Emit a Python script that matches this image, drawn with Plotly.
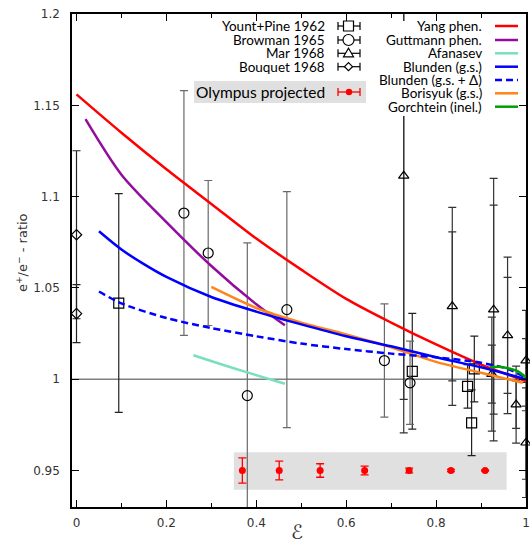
import plotly.graph_objects as go

# ---------------- data ----------------
# Yount+Pine 1962 (squares)
yount_x = [0.094, 0.747, 0.870, 0.879, 0.885]
yount_y = [1.0417, 1.0043, 0.9961, 0.9761, 1.0056]
yount_e = [0.0599, 0.0317, 0.0119, 0.0180, 0.0180]

# Browman 1965 (circles)
brow_x = [0.239, 0.293, 0.380, 0.468, 0.685, 0.742]
brow_y = [1.0910, 1.0691, 0.9910, 1.0381, 1.0102, 0.9980]
brow_e = [0.0670, 0.0397, 0.0837, 0.0646, 0.0310, 0.0228]

# Mar 1968 (triangles): total and statistical errors
mar_x = [0.728, 0.836, 0.924, 0.928, 0.959, 0.978]
mar_y = [1.1114, 1.0399, 1.0028, 1.0381, 1.0240, 0.9861]
mar_e_tot = [0.1408, 0.0542, 0.0312, 0.0719, 0.0429, 0.0211]
mar_e_stat = [0.1225, 0.0408, 0.0159, 0.0572, 0.0318, 0.0130]
mar_edge_x = [1.0, 1.0]
mar_edge_y = [1.0102, 0.9652]
mar_edge_e_tot = [0.0275, 0.0300]
mar_edge_e_stat = [0.0120, 0.0200]

# Bouquet 1968 (diamonds)
bouq_x = [0.0, 0.0]
bouq_y = [1.0791, 1.0359]
bouq_e = [0.0460, 0.0159]

# Olympus projected
oly_x = [0.369, 0.451, 0.542, 0.641, 0.740, 0.833, 0.909]
oly_y = [0.95, 0.95, 0.95, 0.95, 0.95, 0.95, 0.95]
oly_e = [0.0069, 0.0051, 0.0037, 0.0024, 0.0013, 0.0006, 0.0003]
oly_band_x = [0.35, 0.957]
oly_band_y = [0.9395, 0.960]

# Theory curves
yang_x = [0.0, 0.1, 0.2, 0.3, 0.4, 0.5, 0.6, 0.7, 0.8, 0.9, 1.0]
yang_y = [1.156, 1.135, 1.115, 1.096, 1.077, 1.060, 1.044, 1.031, 1.019, 1.008, 0.999]

gutt_x = [0.02, 0.1, 0.2, 0.3, 0.4, 0.4636]
gutt_y = [1.1424, 1.112, 1.086, 1.062, 1.041, 1.0295]

afan_x = [0.26, 0.32, 0.38, 0.4636]
afan_y = [1.0131, 1.0083, 1.0037, 0.9975]

blun_x = [0.05, 0.1, 0.15, 0.2, 0.3, 0.4, 0.5, 0.6, 0.7, 0.8, 0.9, 1.0]
blun_y = [1.081, 1.071, 1.063, 1.056, 1.045, 1.037, 1.030, 1.0235, 1.018, 1.012, 1.0065, 1.0]

blund_x = [0.05, 0.1, 0.2, 0.3, 0.4, 0.5, 0.6, 0.7, 0.8, 0.9, 0.96, 1.0]
blund_y = [1.048, 1.0415, 1.0335, 1.028, 1.0235, 1.0195, 1.0165, 1.014, 1.012, 1.009, 1.0056, 1.0007]

bori_x = [0.3, 0.4, 0.5, 0.6, 0.7, 0.8, 0.9, 0.993]
bori_y = [1.0505, 1.039, 1.031, 1.0245, 1.0175, 1.0095, 1.0035, 0.998]

gorc_x = [0.92, 0.94, 0.96, 0.98, 1.0]
gorc_y = [1.0065, 1.0068, 1.006, 1.0045, 1.001]

xtick_vals = [0, 0.2, 0.4, 0.6, 0.8, 1.0]
xtick_text = ["0", "0.2", "0.4", "0.6", "0.8", "1"]
ytick_vals = [0.95, 1.0, 1.05, 1.1, 1.15, 1.2]
ytick_text = ["0.95", "1", "1.05", "1.1", "1.15", "1.2"]

left_labels = ["Yount+Pine 1962", "Browman 1965", "Mar 1968", "Bouquet 1968"]
right_labels = ["Yang phen.", "Guttmann phen.", "Afanasev", "Blunden (g.s.)",
                "Blunden (g.s. + Δ)", "Borisyuk (g.s.)", "Gorchtein (inel.)"]

# ---------------- style ----------------
C_RED = "#ff0000"
C_PUR = "#920c9e"
C_TEAL = "#78e0c0"
C_BLUE = "#0000ff"
C_ORA = "#ff8419"
C_GRN = "#00a000"
LW = 2.5
DASH = "7px,4px"

W_FIG, H_FIG = 530, 543
# plot area in window pixels
P_L, P_R, P_T, P_B = 72, 526, 14, 507
ML, MR, MT, MB = P_L, W_FIG - P_R, P_T, H_FIG - P_B
PW = P_R - P_L
PH = P_B - P_T


def px(p):
    return (p - P_L) / PW


def py(p):
    return (P_B - p) / PH


fig = go.Figure()


def err_trace(x, y, e, symbol, size, color, ecolor, clip=True, showmarker=True):
    fig.add_trace(go.Scatter(
        x=x, y=y, mode="markers",
        marker=dict(symbol=symbol, size=size, color=color,
                    line=dict(color=color, width=1.2)) if showmarker else dict(size=1, color="rgba(0,0,0,0)"),
        error_y=dict(type="data", array=e, visible=True, color=ecolor, thickness=1.2, width=4),
        cliponaxis=clip, showlegend=False, hoverinfo="skip"))


# data points
err_trace(bouq_x, bouq_y, bouq_e, "diamond-open", 8, "black", "#222222", clip=False)
err_trace(yount_x, yount_y, yount_e, "square-open", 10, "black", "#222222")
err_trace(brow_x, brow_y, brow_e, "circle-open", 10, "black", "#6a6a6a")
err_trace(mar_x, mar_y, mar_e_stat, "triangle-up-open", 9, "black", "#333333", showmarker=False)
err_trace(mar_x, mar_y, mar_e_tot, "triangle-up-open", 9, "black", "#333333")
err_trace(mar_edge_x, mar_edge_y, mar_edge_e_stat, "triangle-up-open", 9, "black", "#333333", clip=False, showmarker=False)
err_trace(mar_edge_x, mar_edge_y, mar_edge_e_tot, "triangle-up-open", 9, "black", "#333333", clip=False)

# theory curves
for xs, ys, col, dash in [
    (yang_x, yang_y, C_RED, "solid"),
    (gutt_x, gutt_y, C_PUR, "solid"),
    (afan_x, afan_y, C_TEAL, "solid"),
    (bori_x, bori_y, C_ORA, "solid"),
    (blun_x, blun_y, C_BLUE, "solid"),
    (blund_x, blund_y, C_BLUE, DASH),
    (gorc_x, gorc_y, C_GRN, "solid"),
]:
    fig.add_trace(go.Scatter(x=xs, y=ys, mode="lines",
                             line=dict(color=col, width=LW, dash=dash, shape="spline", smoothing=0.8),
                             showlegend=False, hoverinfo="skip"))

# Olympus projected
fig.add_trace(go.Scatter(
    x=oly_x, y=oly_y, mode="markers",
    marker=dict(symbol="circle", size=7, color=C_RED),
    error_y=dict(type="data", array=oly_e, visible=True, color=C_RED, thickness=1.3, width=4),
    showlegend=False, hoverinfo="skip"))

shapes = []
# olympus band
shapes.append(dict(type="rect", xref="x", yref="y", x0=oly_band_x[0], x1=oly_band_x[1],
                   y0=oly_band_y[0], y1=oly_band_y[1], fillcolor="#e0e0e0",
                   line=dict(width=0), layer="below"))
# y = 1 line
shapes.append(dict(type="line", xref="paper", yref="y", x0=0, x1=1, y0=1, y1=1,
                   line=dict(color="#808080", width=1.5), layer="below"))
# opaque key box (right legend)
shapes.append(dict(type="rect", xref="paper", yref="paper", x0=px(365), x1=px(518),
                   y0=py(116), y1=py(21), fillcolor="white", line=dict(width=0), layer="above"))
# Olympus legend box
shapes.append(dict(type="rect", xref="paper", yref="paper", x0=px(194), x1=px(366),
                   y0=py(103), y1=py(81), fillcolor="#e0e0e0", line=dict(width=0), layer="above"))

annotations = []
LEG_FONT = dict(family="Lato", size=13.5, color="black")

# left legend (data sets)
left_rows = [26, 40, 53.3, 66.7]
for lab, yy in zip(left_labels, left_rows):
    annotations.append(dict(text=lab, xref="paper", yref="paper", x=px(327), y=py(yy),
                            xanchor="right", yanchor="middle", showarrow=False, font=LEG_FONT))
    shapes.append(dict(type="line", xref="paper", yref="paper", x0=px(338), x1=px(360),
                       y0=py(yy), y1=py(yy), line=dict(color="black", width=1.2), layer="above"))
    for cx in (338, 360):
        shapes.append(dict(type="line", xref="paper", yref="paper", x0=px(cx), x1=px(cx),
                           y0=py(yy - 4), y1=py(yy + 4), line=dict(color="black", width=1.2), layer="above"))

mk_x = px(348.5)
# square
shapes.append(dict(type="rect", xref="paper", yref="paper", xsizemode="pixel", ysizemode="pixel",
                   xanchor=mk_x, yanchor=py(left_rows[0]), x0=-5, x1=5, y0=-5, y1=5,
                   fillcolor="white", line=dict(color="black", width=1.2), layer="above"))
# circle
shapes.append(dict(type="circle", xref="paper", yref="paper", xsizemode="pixel", ysizemode="pixel",
                   xanchor=mk_x, yanchor=py(left_rows[1]), x0=-5.5, x1=5.5, y0=-5.5, y1=5.5,
                   fillcolor="white", line=dict(color="black", width=1.2), layer="above"))
# triangle
shapes.append(dict(type="path", xref="paper", yref="paper", xsizemode="pixel", ysizemode="pixel",
                   xanchor=mk_x, yanchor=py(left_rows[2]), path="M -5,-3.5 L 5,-3.5 L 0,5 Z",
                   fillcolor="white", line=dict(color="black", width=1.2), layer="above"))
# diamond
shapes.append(dict(type="path", xref="paper", yref="paper", xsizemode="pixel", ysizemode="pixel",
                   xanchor=mk_x, yanchor=py(left_rows[3]), path="M -4,0 L 0,4 L 4,0 L 0,-4 Z",
                   fillcolor="white", line=dict(color="black", width=1.2), layer="above"))

# Olympus legend entry
annotations.append(dict(text="Olympus projected", xref="paper", yref="paper", x=px(327), y=py(92),
                        xanchor="right", yanchor="middle", showarrow=False,
                        font=dict(family="Lato", size=15.5, color="black")))
shapes.append(dict(type="line", xref="paper", yref="paper", x0=px(338), x1=px(360),
                   y0=py(92), y1=py(92), line=dict(color=C_RED, width=1.3), layer="above"))
for cx in (338, 360):
    shapes.append(dict(type="line", xref="paper", yref="paper", x0=px(cx), x1=px(cx),
                       y0=py(88), y1=py(96), line=dict(color=C_RED, width=1.3), layer="above"))
shapes.append(dict(type="circle", xref="paper", yref="paper", xsizemode="pixel", ysizemode="pixel",
                   xanchor=px(349), yanchor=py(92), x0=-3.2, x1=3.2, y0=-3.2, y1=3.2,
                   fillcolor=C_RED, line=dict(width=0), layer="above"))

# right legend (theory)
right_rows = [26, 40, 53.3, 66.7, 80, 93.3, 106.7]
right_styles = [(C_RED, "solid"), (C_PUR, "solid"), (C_TEAL, "solid"), (C_BLUE, "solid"),
                (C_BLUE, DASH), (C_ORA, "solid"), (C_GRN, "solid")]
for lab, yy, (col, dash) in zip(right_labels, right_rows, right_styles):
    annotations.append(dict(text=lab, xref="paper", yref="paper", x=px(484), y=py(yy),
                            xanchor="right", yanchor="middle", showarrow=False, font=LEG_FONT))
    shapes.append(dict(type="line", xref="paper", yref="paper", x0=px(495), x1=px(518),
                       y0=py(yy), y1=py(yy), line=dict(color=col, width=LW, dash=dash), layer="above"))

# axis titles
annotations.append(dict(text="ℰ", xref="paper", yref="paper", x=px(297), y=py(532),
                        xanchor="center", yanchor="middle", showarrow=False,
                        font=dict(family="DejaVu Sans", size=20, color="#333333")))
annotations.append(dict(text="e<sup>+</sup>/e<sup>−</sup> - ratio", xref="paper", yref="paper",
                        x=px(22), y=py(253), xanchor="center", yanchor="middle", textangle=-90,
                        showarrow=False, font=dict(family="DejaVu Sans", size=13, color="#333333")))

axis_common = dict(showline=True, linecolor="black", linewidth=1.5, mirror="allticks",
                   ticks="inside", ticklen=7, tickwidth=1.2, tickcolor="black",
                   showgrid=False, zeroline=False, automargin=False,
                   tickfont=dict(family="DejaVu Sans", size=12, color="#333333"))

fig.update_layout(
    width=W_FIG, height=H_FIG,
    margin=dict(l=ML, r=MR, t=MT, b=MB, pad=0, autoexpand=False),
    paper_bgcolor="white", plot_bgcolor="white",
    xaxis=dict(range=[-0.01, 1.0], tickvals=xtick_vals, ticktext=xtick_text,
               minor=dict(ticks="inside", ticklen=4, dtick=0.1, tick0=0, tickcolor="black", tickwidth=1.2),
               ticklabelstandoff=4, **axis_common),
    yaxis=dict(range=[0.93, 1.2], tickvals=ytick_vals, ticktext=ytick_text,
               ticklabelstandoff=8, **axis_common),
    shapes=shapes, annotations=annotations, showlegend=False,
)

# remove the default page margin so the figure sits at the window's top-left corner
fig.write_html("out.html", config={"displayModeBar": False},
               post_script="document.body.style.margin='0';document.body.style.overflow='hidden';window.scrollTo(0,0);")
